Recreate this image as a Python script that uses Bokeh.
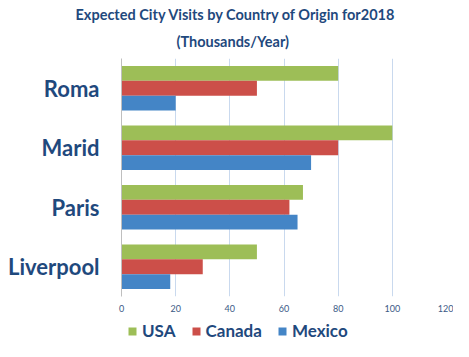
from bokeh.plotting import figure
from bokeh.models import ColumnDataSource, FactorRange, Range1d, Legend, LegendItem, FixedTicker, Title
from bokeh.layouts import column
from bokeh.transform import dodge
from bokeh.embed import file_html
from bokeh.resources import INLINE

cities = ["Roma", "Marid", "Paris", "Liverpool"]
usa = [80, 100, 67, 50]
canada = [50, 80, 62, 30]
mexico = [20, 70, 65, 18]
series = ["USA", "Canada", "Mexico"]
colors = ["#9DBE57", "#CC4F49", "#4485C6"]
x_ticks = [0, 20, 40, 60, 80, 100, 120]
title_lines = ["Expected City Visits by Country of Origin for2018", "(Thousands/Year)"]

source = ColumnDataSource(data=dict(city=cities, USA=usa, Canada=canada, Mexico=mexico))

p = figure(width=453, height=318, output_backend="svg", toolbar_location=None,
           y_range=FactorRange(factors=list(reversed(cities)), range_padding=0),
           x_range=Range1d(0, 120), min_border_left=121, min_border_right=7,
           min_border_top=58, min_border_bottom=22)
p.outline_line_color = None
p.background_fill_color = "white"
p.border_fill_color = "white"

offsets = [0.25, 0.0, -0.25]
renderers = []
for name, col, off in zip(series, colors, offsets):
    r = p.hbar(y=dodge("city", off, range=p.y_range), right=name, left=0, height=0.25,
               source=source, fill_color=col, line_color=None)
    renderers.append(r)

# axes
p.xaxis.ticker = FixedTicker(ticks=x_ticks)
p.xaxis.axis_line_color = None
p.xaxis.major_tick_line_color = None
p.xaxis.minor_tick_line_color = None
p.xaxis.major_tick_out = 0
p.xaxis.major_label_text_font = "Lato"
p.xaxis.major_label_text_font_size = "9px"
p.xaxis.major_label_text_color = "#3B5A86"
p.xaxis.major_label_standoff = 8

p.yaxis.axis_line_color = "#BFBFBF"
p.yaxis.major_tick_line_color = None
p.yaxis.minor_tick_line_color = None
p.yaxis.major_tick_out = 0
p.yaxis.major_label_text_font = "Lato"
p.yaxis.major_label_text_font_style = "bold"
p.yaxis.major_label_text_font_size = "22px"
p.yaxis.major_label_text_color = "#1F497D"
p.yaxis.major_label_standoff = 22

p.xgrid.grid_line_color = "#C9D9EE"
p.ygrid.grid_line_color = None

# title (line 2 first: closest to the plot)
for txt, off, st in [(title_lines[1], 55, 18), (title_lines[0], -46, -2)]:
    p.add_layout(Title(text=txt, align="left", offset=off, standoff=st, text_font="Lato",
                       text_font_style="bold", text_font_size="14.5px", text_color="#1F497D"),
                 "above")

# legend strip below the chart (frame aligned with the chart's frame)
lg = figure(width=453, height=23, output_backend="svg", toolbar_location=None,
            x_range=Range1d(0, 1), y_range=Range1d(0, 1),
            min_border_left=0, min_border_right=0, min_border_top=0, min_border_bottom=0)
lg.axis.visible = False
lg.grid.visible = False
lg.outline_line_color = None
lg_renderers = [lg.hbar(y=0, left=0, right=name, height=0, source=source,
                        fill_color=c, line_color=None)
                for name, c in zip(series, colors)]
legend = Legend(items=[LegendItem(label=s, renderers=[r]) for s, r in zip(series, lg_renderers)],
                orientation="horizontal", location=(6, 0), padding=0, margin=0,
                border_line_color=None, background_fill_alpha=0,
                glyph_width=10, glyph_height=10, label_standoff=5, spacing=15,
                label_text_font="Lato", label_text_font_style="bold",
                label_text_font_size="17px", label_text_color="#1F497D", label_height=14)
lg.add_layout(legend, "center")

layout = column(p, lg, spacing=0)
open("out.html", "w").write(file_html(layout, INLINE))
